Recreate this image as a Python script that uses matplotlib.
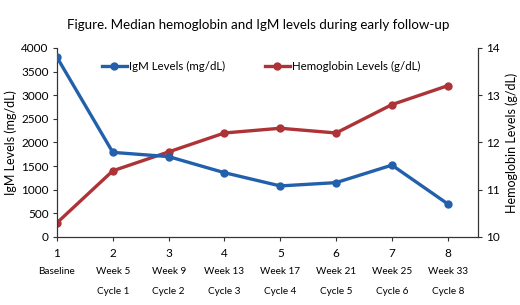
import matplotlib.pyplot as plt
import matplotlib.transforms as mtransforms

plt.rcParams['font.family'] = ['Lato', 'DejaVu Sans']

# data
visits = [1, 2, 3, 4, 5, 6, 7, 8]
weeks = ['Baseline', 'Week 5', 'Week 9', 'Week 13', 'Week 17', 'Week 21', 'Week 25', 'Week 33']
cycles = ['', 'Cycle 1', 'Cycle 2', 'Cycle 3', 'Cycle 4', 'Cycle 5', 'Cycle 6', 'Cycle 8']
igm = [3800, 1790, 1700, 1360, 1080, 1150, 1520, 700]
hgb = [10.3, 11.4, 11.8, 12.2, 12.3, 12.2, 12.8, 13.2]

blue = '#2360AC'
red = '#AD3337'

fig = plt.figure(figsize=(5.2, 3.05), dpi=100)
ax = fig.add_axes([0.1096, 0.223, 0.8094, 0.62])
ax2 = ax.twinx()

l1, = ax.plot(visits, igm, color=blue, lw=2.4, marker='o', ms=5, label='IgM Levels (mg/dL)', zorder=3)
l2, = ax2.plot(visits, hgb, color=red, lw=2.4, marker='o', ms=5, label='Hemoglobin Levels (g/dL)', zorder=2)
ax.set_zorder(ax2.get_zorder() + 1)
ax.patch.set_visible(False)

ax.set_xlim(1, 8.54)
ax.set_ylim(0, 4000)
ax2.set_ylim(10, 14)
ax.set_yticks(range(0, 4001, 500))
ax2.set_yticks(range(10, 15))
ax.set_xticks(visits)
ax.set_xticklabels([str(v) for v in visits])

for a in (ax, ax2):
    a.spines['top'].set_visible(False)
    a.tick_params(labelsize=8.5, length=3, width=0.8, color='#333333', pad=3)
    for s in a.spines.values():
        s.set_linewidth(0.8)
        s.set_color('#333333')
ax.tick_params(axis='x', pad=5)

trans = mtransforms.blended_transform_factory(ax.transData, fig.transFigure)
for v, w, c in zip(visits, weeks, cycles):
    fig.text(v, 1 - 272 / 305, w, transform=trans, ha='center', va='center', fontsize=7.2)
    if c:
        fig.text(v, 1 - 292 / 305, c, transform=trans, ha='center', va='center', fontsize=7.2)

ax.set_ylabel('IgM Levels (mg/dL)', fontsize=9, labelpad=3)
ax2.set_ylabel('Hemoglobin Levels (g/dL)', fontsize=9, labelpad=4)

fig.text(0.497, 1 - 25 / 305, 'Figure. Median hemoglobin and IgM levels during early follow-up',
         ha='center', va='center', fontsize=9.6)

ax.legend([l1, l2], [l1.get_label(), l2.get_label()], ncol=2, frameon=False,
          fontsize=8.3, loc='upper center', bbox_to_anchor=(0.485, 0.985),
          handlelength=2.2, columnspacing=3.4, handletextpad=0.2)

fig.savefig('out.png', dpi=100)
